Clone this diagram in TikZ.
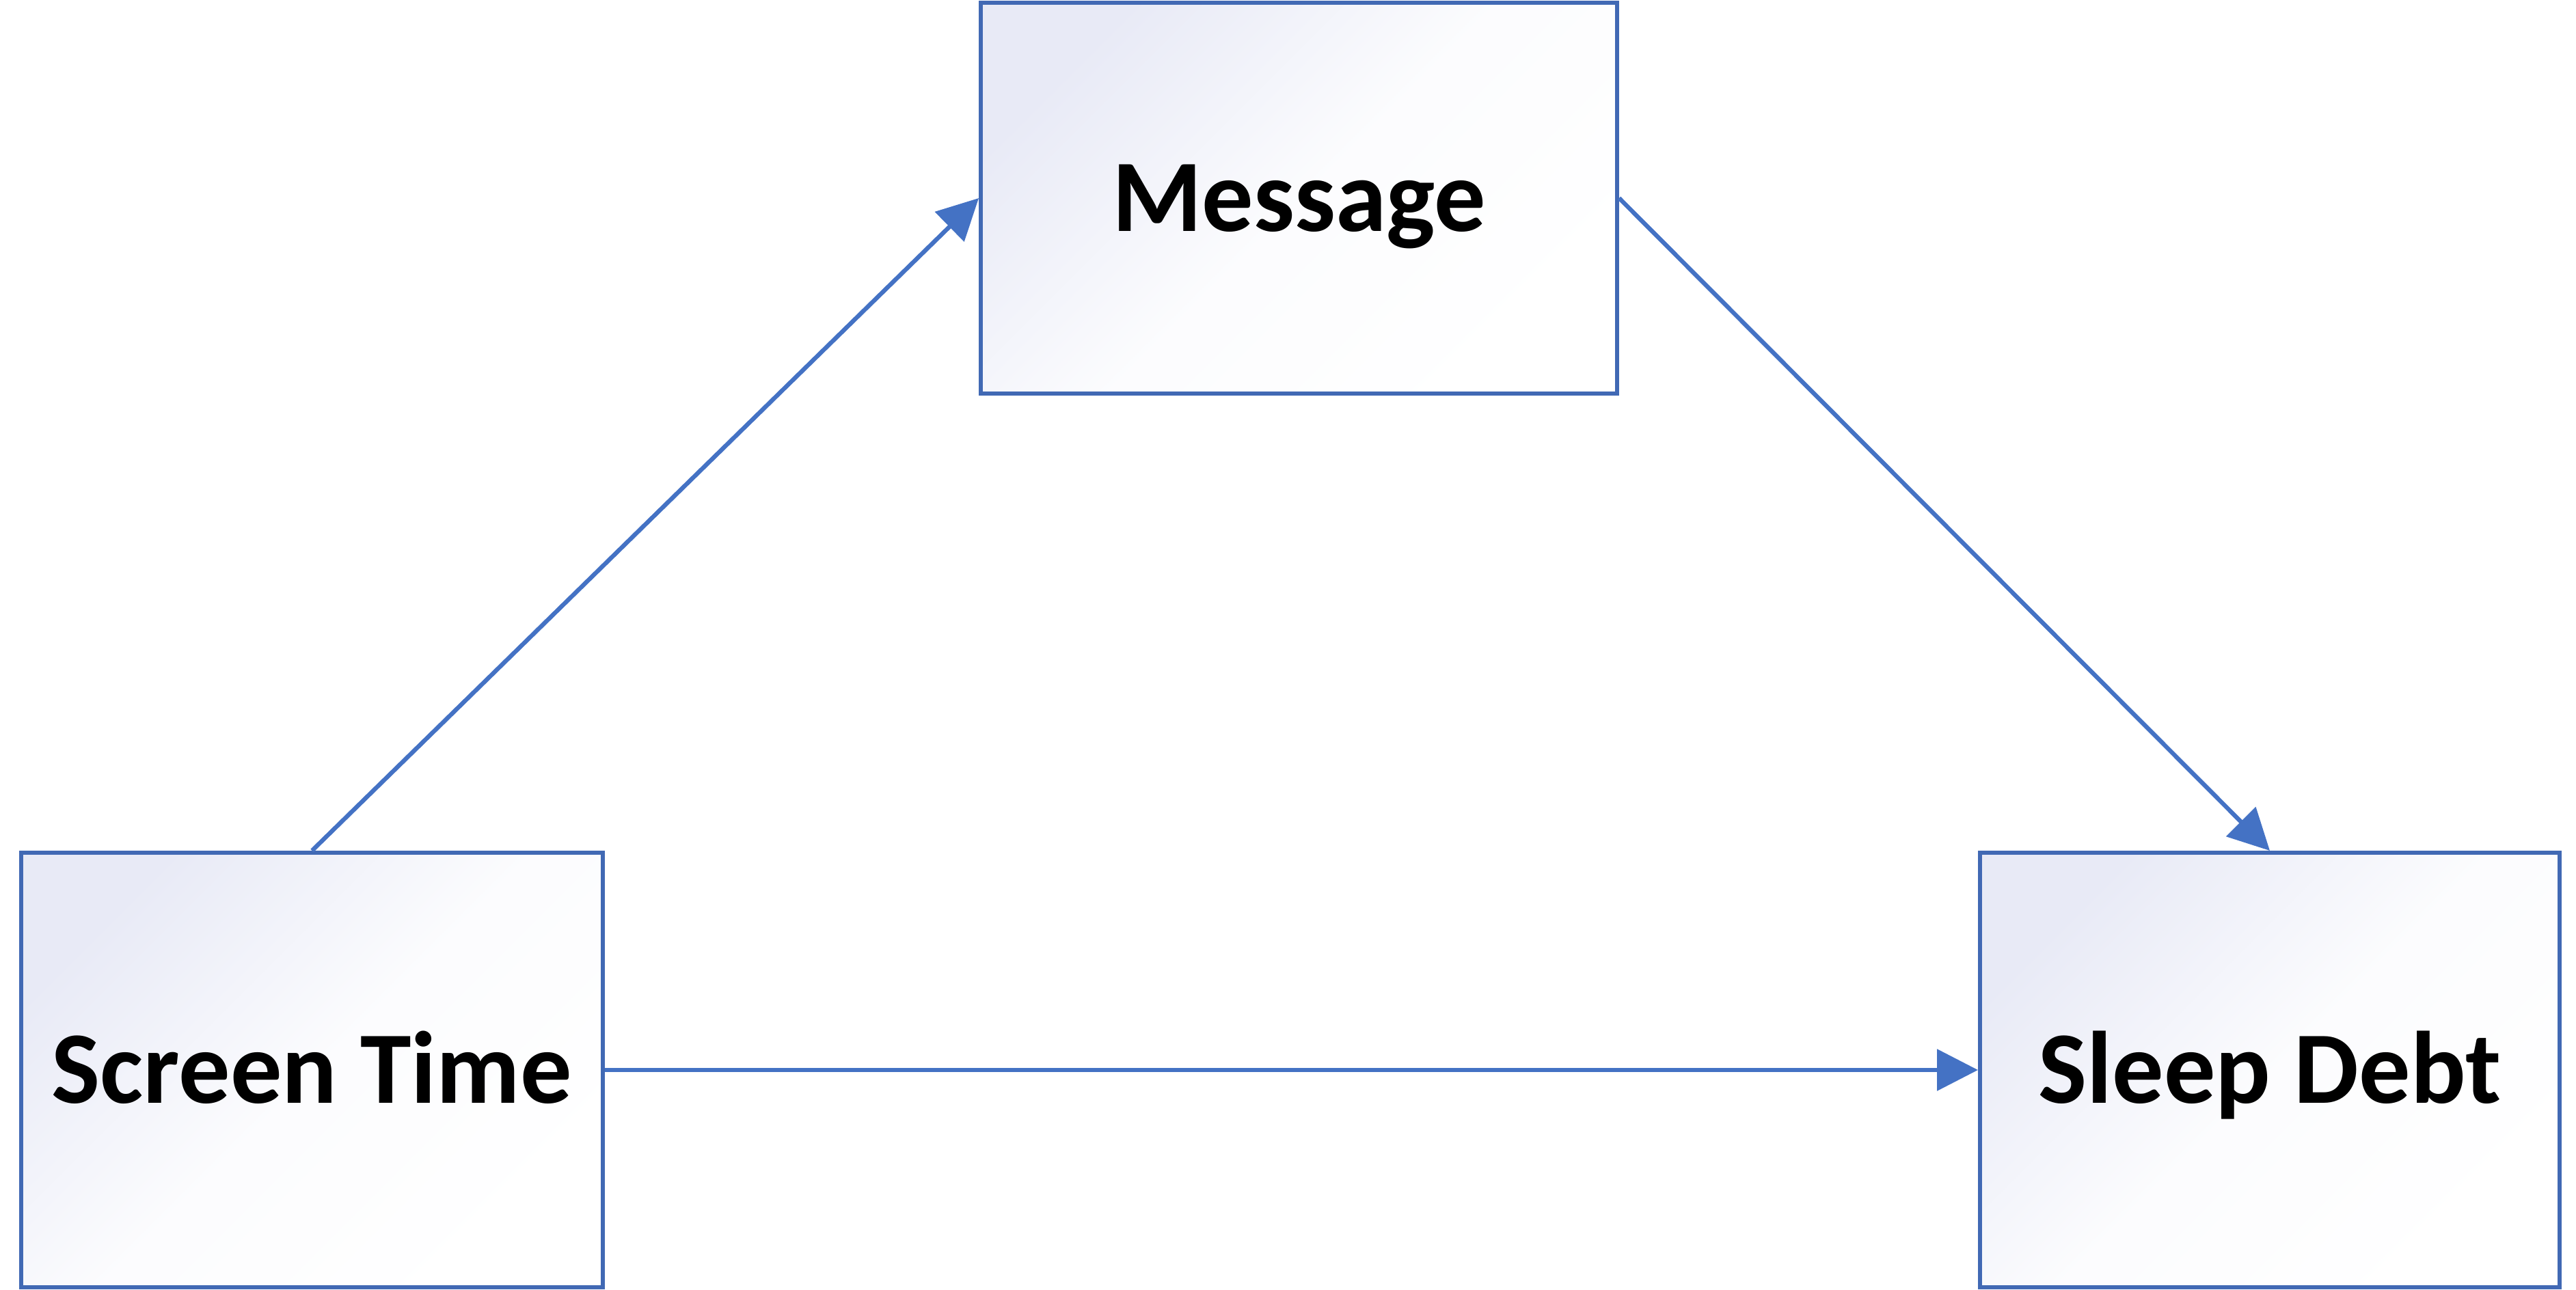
\documentclass[tikz,border=0pt]{standalone}
\usepackage{fontspec}
\setmainfont{Carlito}
\usetikzlibrary{arrows.meta}
\definecolor{boxblue}{RGB}{65,105,180}
\definecolor{arrowblue}{RGB}{68,114,196}
\definecolor{lav}{RGB}{232,234,246}
\tikzset{
  varbox/.style={draw=boxblue, line width=1.7pt, inner sep=0pt,
    top color=lav, bottom color=white, middle color=white!85!lav, shading angle=45,
    font=\fontsize{42.8}{50}\selectfont\bfseries, text height=0.97cm, text depth=0cm},
  conn/.style={draw=arrowblue, line width=1.8pt, -{Triangle[length=0.6cm,width=0.6cm]}}
}
\begin{document}
\begin{tikzpicture}
\useasboundingbox (0,0) rectangle (37.69,18.88);
\node[varbox, minimum width=8.51cm, minimum height=6.36cm] (st) at (4.565,3.22) {Screen Time};
\node[varbox, minimum width=9.31cm, minimum height=5.72cm] (msg) at (19.005,15.98) {Message};
\node[varbox, minimum width=8.48cm, minimum height=6.36cm] (sd) at (33.21,3.22) {Sleep Debt};
\draw[conn] (st.north) -- (msg.west);
\draw[conn] (msg.east) -- (sd.north);
\draw[conn] (st.east) -- (sd.west);
\end{tikzpicture}
\end{document}
